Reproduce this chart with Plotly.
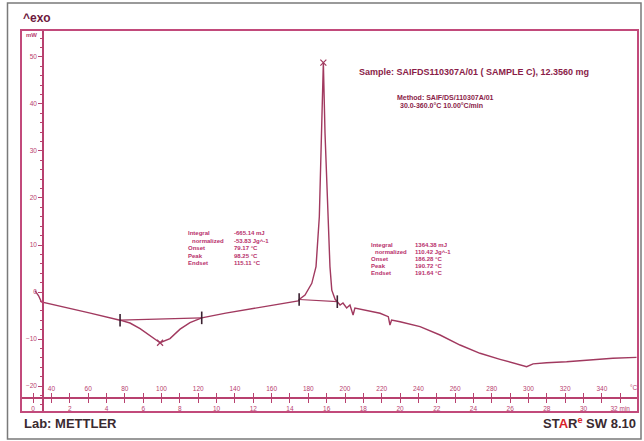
import plotly.graph_objects as go

# ---- data ----
temp_c = [31, 33, 34.5, 45, 60, 77.4, 82.8, 88.3, 93.7, 99.2, 104.6, 110.1, 115.5, 121.9,
          135, 150, 162, 174.5, 175, 178.2, 181.9, 184.2, 186.0, 187.3, 188.2, 189.1, 190.6,
          191.8, 192.8, 194.6, 195.8, 197.3, 198.9, 200.9, 202.7, 204.4, 205.4, 208.2, 211.8,
          219.1, 223.6, 224.5, 225.4, 230.0, 240.9, 251.8, 262.7, 273.6, 284.5, 291.6, 299.0,
          302.5, 309.9, 320.8, 328.1, 339.0, 346.0, 358.9]
heat_flow_mw = [0.3, -0.8, -2.1, -3.1, -4.4, -6.0, -6.6, -7.8, -9.2, -10.8, -9.9, -7.9, -6.5, -5.5,
                -4.5, -3.5, -2.6, -1.9, -1.6, -0.64, 1.85, 5.4, 16.0, 33.8, 48.8, 33.8, 16.0,
                5.4, 0.4, -1.55, -2.06, -2.77, -2.34, -3.40, -2.77, -4.89, -3.40, -3.62, -3.98,
                -4.53, -5.26, -7.02, -5.96, -6.32, -7.38, -9.15, -11.28, -13.04, -14.32, -15.04, -15.9,
                -15.3, -15.04, -14.83, -14.62, -14.32, -14.1, -13.9]

# evaluation limits (onset / endset baseline points) and extrema
endo_limits_t = [77.4, 121.9]
endo_limits_mw = [-6.0, -5.5]
exo_limits_t = [175.0, 195.8]
exo_limits_mw = [-1.6, -2.06]
extrema_t = [99.2, 188.2]
extrema_mw = [-10.8, 48.8]

temp_ticks = list(range(40, 341, 20))
min_ticks = list(range(0, 33, 2))
min_labels = [str(m) for m in min_ticks[:-1]] + ["32 min"]
mw_ticks = list(range(-20, 51, 10))

left_labels = ["Integral", "  normalized", "Onset", "Peak", "Endset"]
left_values = ["-665.14 mJ", "-53.83 Jg^-1", "79.17 °C", "98.25 °C", "115.11 °C"]
right_labels = ["Integral", "  normalized", "Onset", "Peak", "Endset"]
right_values = ["1364.38 mJ", "110.42 Jg^-1", "186.28 °C", "190.72 °C", "191.64 °C"]

# ---- styling ----
CURVE = "#a1395f"
FRAME = "#c24a7b"
AXIS = "#b8416f"
TXT = "#8a1c48"
RES = "#b8306c"
FONT = "Liberation Sans, Arial, sans-serif"

L, T, W, H = 21, 30, 617, 382


def px(x):
    return (x - L) / W


def py(y):
    return (T + H - y) / H


fig = go.Figure()
fig.add_trace(go.Scatter(x=temp_c, y=heat_flow_mw, mode="lines",
                         line=dict(color=CURVE, width=1.4), hoverinfo="skip"))
fig.add_trace(go.Scatter(x=endo_limits_t, y=endo_limits_mw, mode="lines+markers",
                         line=dict(color=CURVE, width=1.2),
                         marker=dict(symbol="line-ns", size=9, line=dict(color="#3a2030", width=1.6))))
fig.add_trace(go.Scatter(x=exo_limits_t, y=exo_limits_mw, mode="lines+markers",
                         line=dict(color=CURVE, width=1.2),
                         marker=dict(symbol="line-ns", size=9, line=dict(color="#3a2030", width=1.6))))
fig.add_trace(go.Scatter(x=extrema_t, y=extrema_mw, mode="markers",
                         marker=dict(symbol="x-thin", size=6, line=dict(color=CURVE, width=1.2))))
# invisible trace on the minutes axis
fig.add_trace(go.Scatter(x=[0, 32], y=[None, None], xaxis="x2", mode="lines",
                         showlegend=False, hoverinfo="skip"))

axis_common = dict(showgrid=False, zeroline=False, showline=True, linecolor=AXIS,
                   linewidth=1.5, tickcolor=AXIS, tickwidth=1.2,
                   tickfont=dict(family=FONT, size=6.5, color=AXIS))

fig.update_layout(
    width=644, height=441, autosize=False,
    margin=dict(l=L, r=644 - L - W, t=T, b=441 - T - H),
    paper_bgcolor="white", plot_bgcolor="white",
    showlegend=False,
    xaxis=dict(range=[23.4, 359.7], anchor="free", position=py(398), side="top",
               tickmode="array", tickvals=temp_ticks, ticks="outside", ticklen=4,
               minor=dict(dtick=10, tick0=0, ticks="outside", ticklen=4, tickcolor=AXIS),
               **axis_common),
    xaxis2=dict(range=[(23.4 - 30) / 10, (359.7 - 30) / 10], overlaying="x", anchor="free",
                position=py(398), side="bottom", tickmode="array", tickvals=min_ticks,
                ticktext=min_labels, ticks="outside", ticklen=4,
                minor=dict(dtick=1, tick0=0, ticks="outside", ticklen=4, tickcolor=AXIS),
                **axis_common),
    yaxis=dict(range=[-25.53, 55.74], anchor="free", position=px(43), side="left",
               tickmode="array", tickvals=mw_ticks, ticks="outside", ticklen=4,
               minor=dict(dtick=2, tick0=0, ticks="outside", ticklen=2.5, tickcolor=AXIS),
               **axis_common),
)

# frames
fig.add_shape(type="rect", xref="paper", yref="paper", x0=px(7.5), x1=px(641), y0=py(439), y1=py(3),
              line=dict(color="#7a7a7a", width=1.5), layer="below")
fig.add_shape(type="rect", xref="paper", yref="paper", x0=0, x1=1, y0=0, y1=1,
              line=dict(color=FRAME, width=2))


def note(text, x, y, size, color, anchor="left", bold=True):
    fig.add_annotation(text=f"<b>{text}</b>" if bold else text, xref="paper", yref="paper",
                       x=px(x), y=py(y), xanchor=anchor, yanchor="middle", showarrow=False,
                       font=dict(family=FONT, size=size, color=color))


note("^exo", 21, 18, 12, "#6e1a3e")
note("mW", 24, 35, 6, AXIS)
note("°C", 634, 387, 6.5, AXIS, anchor="center", bold=False)
note("Sample: SAIFDS110307A/01 ( SAMPLE C), 12.3560 mg", 357, 72, 9, TXT)
note("Method: SAIF/DS/110307A/01", 395, 97, 7, TXT)
note("30.0-360.0°C 10.00°C/min", 398, 105, 7, TXT)

for i, (lab, val) in enumerate(zip(left_labels, left_values)):
    yy = 233 + i * 7.6
    note(lab.strip(), 190 if lab.startswith(" ") else 186, yy, 6, RES)
    note(val, 232, yy, 6, RES)
for i, (lab, val) in enumerate(zip(right_labels, right_values)):
    yy = 245 + i * 7.1
    note(lab.strip(), 373 if lab.startswith(" ") else 369, yy, 6, RES)
    note(val, 413, yy, 6, RES)

note("Lab: METTLER", 22, 423, 13, "#3a2a30")
note("ST<span style='color:#d8232a'>A</span>R<sup><span style='color:#d8232a'>e</span></sup> SW 8.10",
     638, 423, 13, "#3a2a30", anchor="right")

fig.write_html("out.html", config={"displayModeBar": False},
               post_script="document.body.style.margin='0';document.body.style.overflow='hidden';")
